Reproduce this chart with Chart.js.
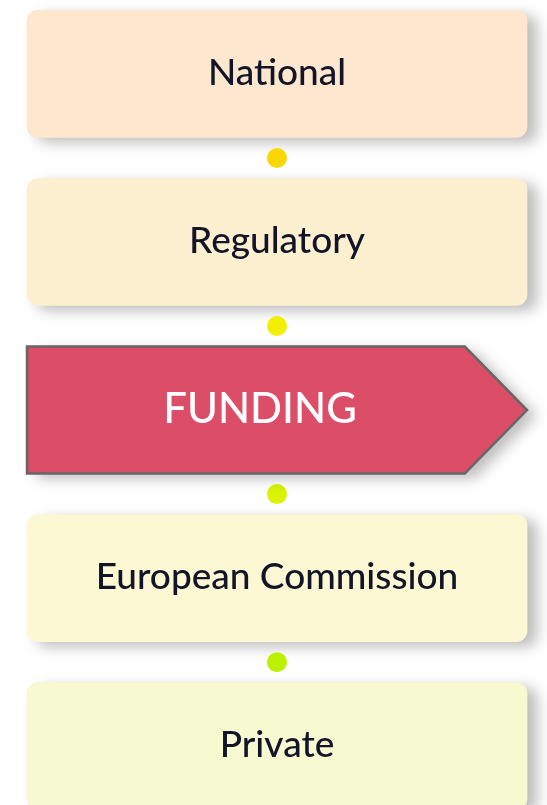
<!DOCTYPE html>
<html>
<head>
<meta charset="utf-8">
<script src="https://cdn.jsdelivr.net/npm/chart.js@4.4.1/dist/chart.umd.min.js"></script>
<style>
  html, body { margin: 0; padding: 0; background: #ffffff; }
  #wrap { position: relative; width: 547px; height: 805px; }
</style>
</head>
<body>
<div id="wrap"><canvas id="flowChart"></canvas></div>
<script>
// stages of the flow, top to bottom
const stages = ['National', 'Regulatory', 'FUNDING', 'European Commission', 'Private'];
const stageLevel = [0, 1, 2, 3, 4];
const stageExtent = [100, 100, 100, 100, 100];
const highlightedStage = 'FUNDING';

// connector dots sit between two stages
const connectorLevel = [0.5, 1.5, 2.5, 3.5];
const connectorPos = [50, 50, 50, 50];

const stageColors = ['#fde8cf', '#fdf0d0', '#dc4d68', '#fbf8d3', '#f7f9d0'];
const connectorColors = ['#fad700', '#f2ef00', '#d9f300', '#bdf000'];
const fontStack = "Lato, 'Liberation Sans Narrow', 'DejaVu Sans Condensed', sans-serif";

document.addEventListener('DOMContentLoaded', () => {
    const canvas = document.getElementById('flowChart');
    const ctx = canvas.getContext('2d');
    const hiIndex = stages.indexOf(highlightedStage);

    const barColors = stageColors.map((c, i) => i === hiIndex ? 'rgba(0,0,0,0)' : c);

    const shadowPlugin = {
        id: 'boxShadow',
        beforeDatasetDraw: (chart, args) => {
            if (args.index !== 0) return;
            const c = chart.ctx;
            c.save();
            c.shadowColor = 'rgba(0, 0, 0, 0.26)';
            c.shadowBlur = 14;
            c.shadowOffsetX = 10;
            c.shadowOffsetY = 5;
        },
        afterDatasetDraw: (chart, args) => {
            if (args.index !== 0) return;
            chart.ctx.restore();
        }
    };

    const arrowAndLabels = {
        id: 'arrowAndLabels',
        afterDatasetsDraw: (chart) => {
            const c = chart.ctx;
            const bars = chart.getDatasetMeta(0).data;

            // highlighted stage is drawn as an arrow
            const hb = bars[hiIndex];
            if (hb) {
                const left = hb.base, right = hb.x;
                const top = hb.y - hb.height / 2, bottom = hb.y + hb.height / 2;
                const tip = hb.height * 0.49;
                c.save();
                c.shadowColor = 'rgba(0, 0, 0, 0.26)';
                c.shadowBlur = 14;
                c.shadowOffsetX = 10;
                c.shadowOffsetY = 5;
                c.beginPath();
                c.moveTo(left, top);
                c.lineTo(right - tip, top);
                c.lineTo(right, hb.y);
                c.lineTo(right - tip, bottom);
                c.lineTo(left, bottom);
                c.closePath();
                c.fillStyle = stageColors[hiIndex];
                c.fill();
                c.shadowColor = 'transparent';
                c.lineWidth = 2.5;
                c.strokeStyle = '#666666';
                c.stroke();
                c.restore();
            }

            // stage names
            bars.forEach((bar, i) => {
                const isHi = i === hiIndex;
                const cx = (chart.chartArea.left + chart.chartArea.right) / 2 + (isHi ? -17 : 0);
                c.save();
                c.font = (isHi ? '500 42px ' : '500 37px ') + fontStack;
                c.fillStyle = isHi ? '#ffffff' : '#141428';
                c.textAlign = 'center';
                c.textBaseline = 'middle';
                c.fillText(stages[i], cx, bar.y - 1);
                c.restore();
            });
        }
    };

    new Chart(ctx, {
        type: 'bar',
        data: {
            datasets: [{
                label: 'stages',
                data: stages.map((s, i) => ({ x: stageExtent[i], y: stageLevel[i] })),
                backgroundColor: barColors,
                borderWidth: 0,
                borderRadius: 11,
                borderSkipped: false,
                barThickness: 127,
                clip: false,
                order: 2
            }, {
                type: 'scatter',
                label: 'connectors',
                data: connectorLevel.map((l, i) => ({ x: connectorPos[i], y: l })),
                backgroundColor: connectorColors,
                borderWidth: 0,
                pointRadius: 10,
                order: 1
            }]
        },
        options: {
            indexAxis: 'y',
            responsive: true,
            maintainAspectRatio: false,
            animation: false,
            layout: {
                autoPadding: false,
                padding: { top: 0, right: 20, bottom: 0, left: 27 }
            },
            scales: {
                x: {
                    type: 'linear',
                    min: 0,
                    max: 100,
                    display: false
                },
                y: {
                    type: 'linear',
                    reverse: true,
                    offset: false,
                    min: -0.44,
                    max: 4.35,
                    display: false
                }
            },
            plugins: {
                legend: { display: false },
                tooltip: { enabled: false }
            }
        },
        plugins: [shadowPlugin, arrowAndLabels]
    });
});
</script>
</body>
</html>
